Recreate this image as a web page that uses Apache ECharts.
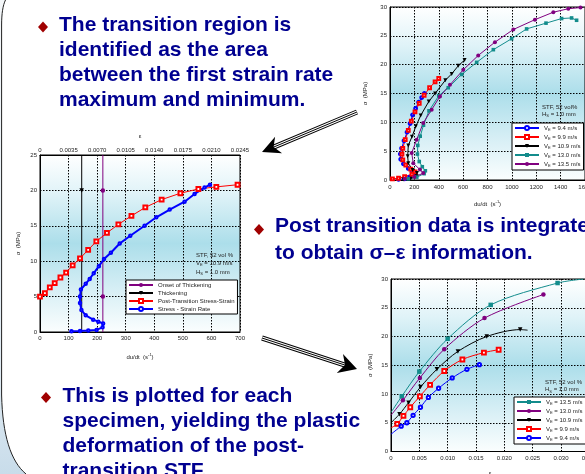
<!DOCTYPE html>
<html>
<head>
<meta charset="utf-8">
<script src="https://cdn.jsdelivr.net/npm/echarts@6/dist/echarts.min.js"></script>
<style>
  html, body { margin: 0; padding: 0; background: #fff; }
  #main { width: 585px; height: 474px; }
</style>
</head>
<body>
<div id="main"></div>
<script>
const FONT = 'Liberation Sans, Arial, sans-serif';

// left chart, one specimen (V_E = 10.9 m/s)
const onsetLine = [[220, 0], [220, 5], [220, 20], [220, 25]];
const thickLine = [[146, 0], [146, 20], [146, 25]];
const postLeft = [[0, 5.0], [0.0006, 5.5], [0.0012, 6.3], [0.0018, 6.9], [0.0025, 7.7], [0.0032, 8.4],
  [0.0040, 9.4], [0.0049, 10.4], [0.0059, 11.6], [0.0069, 12.8], [0.0082, 14.0], [0.0096, 15.2],
  [0.0112, 16.4], [0.0129, 17.6], [0.0149, 18.7], [0.0172, 19.6], [0.0194, 20.2], [0.0216, 20.5], [0.0242, 20.8]];
const rateLeft = [[110, 0.1], [140, 0.14], [169, 0.2], [198, 0.3], [219, 0.66], [221, 1.2], [204, 1.46],
  [186, 1.74], [160, 2.35], [145, 3.1], [140, 4.1], [140, 5.0], [143, 6.0], [160, 6.8], [174, 7.5],
  [188, 8.3], [206, 9.3], [224, 10.3], [248, 11.2], [279, 12.5], [316, 13.6], [366, 15.0], [407, 16.2],
  [454, 17.3], [506, 18.4], [541, 19.5], [576, 20.4], [595, 20.8]];

// top right: stress vs strain rate
const rate94 = [[70, 0.1], [120, 0.2], [160, 0.5], [195, 1.1], [180, 1.5], [150, 2.0], [110, 2.8], [88, 3.6],
  [85, 4.5], [95, 5.5], [115, 6.8], [140, 8.3], [165, 9.8], [185, 11.3], [210, 12.4], [235, 13.5], [260, 14.3], [282, 15.0]];
const rate99 = [[20, 0.2], [70, 0.3], [120, 0.6], [180, 1.0], [205, 1.4], [170, 1.9], [130, 2.6], [105, 3.5],
  [98, 4.5], [105, 5.5], [125, 7.0], [150, 8.6], [175, 10.2], [205, 11.8], [240, 13.3], [280, 14.7],
  [325, 16.0], [370, 17.0], [400, 17.6]];
const rate109 = [[110, 0.1], [169, 0.2], [219, 0.66], [221, 1.2], [186, 1.74], [150, 2.9], [145, 4.1],
  [150, 6.0], [180, 7.5], [212, 9.3], [252, 11.2], [318, 13.6], [370, 15.0], [454, 17.3], [506, 18.4],
  [560, 19.8], [612, 20.8]];
const rate130 = [[150, 0.2], [220, 0.5], [280, 1.1], [290, 1.6], [265, 2.3], [240, 3.2], [225, 4.5], [228, 6.0],
  [248, 7.6], [275, 9.5], [320, 12.0], [400, 14.6], [478, 16.0], [588, 18.3], [711, 20.4], [848, 22.6],
  [998, 24.5], [1121, 26.2], [1280, 27.2], [1408, 28.0], [1490, 28.1], [1531, 27.7]];
const rate135 = [[120, 0.2], [200, 0.5], [273, 1.2], [246, 1.8], [191, 2.9], [178, 4.7], [219, 7.0],
  [273, 9.9], [342, 12.2], [410, 14.5], [492, 16.5], [601, 19.1], [724, 21.6], [861, 23.9], [1012, 26.1],
  [1189, 27.8], [1340, 29.1], [1463, 29.7], [1563, 29.9]];

// bottom right: stress vs strain
const strain135 = [[0, 6.8], [0.0019, 9.6], [0.005, 13.9], [0.010, 19.6], [0.0176, 25.5], [0.0294, 29.3], [0.034, 30.0]];
const strain130 = [[0, 6.3], [0.0021, 8.9], [0.0051, 12.8], [0.0094, 17.8], [0.0165, 23.2], [0.0269, 27.3]];
const strain109 = [[0, 5.0], [0.0015, 6.5], [0.0031, 8.5], [0.0052, 11.2], [0.0081, 14.3], [0.0118, 17.4],
  [0.0169, 20.0], [0.0228, 21.2], [0.0241, 21.1]];
const strain99 = [[0, 4.1], [0.0011, 4.8], [0.0022, 6.2], [0.0034, 7.7], [0.0051, 9.6], [0.0069, 11.6],
  [0.0094, 14.0], [0.0126, 16.0], [0.0164, 17.2], [0.019, 17.7]];
const strain94 = [[0, 3.0], [0.0018, 4.4], [0.0028, 5.0], [0.0039, 6.3], [0.0052, 7.7], [0.0066, 9.4],
  [0.0084, 11.0], [0.0108, 12.8], [0.0134, 14.3], [0.0156, 15.1]];

const leftNames = ['Onset of Thickening', 'Thickening', 'Post-Transition Stress-Strain', 'Stress - Strain Rate'];
const speeds = ['9.4', '9.9', '10.9', '13.0', '13.5'];

const bullet1 = ['The transition region is', 'identified as the area', 'between the first strain rate', 'maximum and minimum.'];
const bullet2 = ['Post transition data is integrated', 'to obtain σ–ε information.'];
const bullet3 = ['This is plotted for each', 'specimen, yielding the plastic', 'deformation of the post-', 'transition STF.'];

const chart = echarts.init(document.getElementById('main'));

function vGradient(stops) {
  return { type: 'linear', x: 0, y: 0, x2: 0, y2: 1, global: false,
    colorStops: stops.map(s => ({ offset: s[0], color: s[1] })) };
}

const plotBg = vGradient([[0, '#ffffff'], [0.22, '#e0f3f8'], [0.5, '#acdeea'], [0.78, '#daf0f6'], [1, '#fbfefe']]);

const smallText = { fontSize: 6, fontFamily: FONT, color: '#222' };
const richSub = {
  s: { fontSize: 4, fontFamily: FONT, color: '#222', verticalAlign: 'bottom', lineHeight: 8 },
  p: { fontSize: 4, fontFamily: FONT, color: '#222', verticalAlign: 'top', lineHeight: 8 },
  n: { fontSize: 6, fontFamily: FONT, color: '#222', lineHeight: 8 }
};

function valAxis(o) {
  return Object.assign({
    type: 'value',
    axisLine: { show: true, onZero: false, lineStyle: { color: '#000', width: 1 } },
    axisTick: { show: false },
    axisLabel: Object.assign({ margin: 3, formatter: v => String(v) }, smallText),
    splitLine: { show: true, lineStyle: { color: '#000', width: 1, type: [1.5, 1.5] } },
    nameLocation: 'middle',
    nameTextStyle: Object.assign({ rich: richSub }, smallText)
  }, o);
}

// hide the marker on the first and last point of a line
function endsHidden(data, size) {
  return (v, p) => (p.dataIndex === 0 || p.dataIndex === data.length - 1) ? 0 : size;
}
const firstHidden = size => (v, p) => p.dataIndex === 0 ? 0 : size;

function line(name, data, xi, yi, color, symbol, size, extra) {
  return Object.assign({
    name: name,
    type: 'line',
    data: data,
    xAxisIndex: xi,
    yAxisIndex: yi,
    symbol: symbol,
    symbolSize: size,
    color: color,
    lineStyle: { color: color, width: 1 },
    itemStyle: { color: color, borderColor: color, borderWidth: symbol.indexOf('empty') === 0 ? 1 : 0 },
    animation: false,
    z: 3
  }, extra || {});
}

const TEAL = '#138c8c';
const PURPLE = '#80007f';

const series = [
  line(leftNames[0], onsetLine, 0, 0, PURPLE, 'circle', endsHidden(onsetLine, 4.5), { z: 2 }),
  line(leftNames[1], thickLine, 0, 0, '#000', 'triangle', endsHidden(thickLine, 4.5), { symbolRotate: 180, z: 2 }),
  line(leftNames[2], postLeft, 1, 0, '#ff0000', 'emptyRect', 3.8),
  line(leftNames[3], rateLeft, 0, 0, '#0000ff', 'emptyCircle', 2.5, { lineStyle: { color: '#0000ff', width: 2 } }),

  line('rate|9.4', rate94, 2, 1, '#0000ff', 'emptyCircle', 2.8),
  line('rate|9.9', rate99, 2, 1, '#ff0000', 'emptyRect', 2.8),
  line('rate|10.9', rate109, 2, 1, '#000', 'triangle', 4, { symbolRotate: 180 }),
  line('rate|13.0', rate130, 2, 1, TEAL, 'rect', 3.6),
  line('rate|13.5', rate135, 2, 1, PURPLE, 'circle', 4),

  line('strain|13.5', strain135, 3, 2, TEAL, 'rect', endsHidden(strain135, 4.5), { smooth: 0.3 }),
  line('strain|13.0', strain130, 3, 2, PURPLE, 'circle', firstHidden(4.5), { smooth: 0.3 }),
  line('strain|10.9', strain109, 3, 2, '#000', 'triangle', endsHidden(strain109, 4.5), { symbolRotate: 180, smooth: 0.3 }),
  line('strain|9.9', strain99, 3, 2, '#ff0000', 'emptyRect', firstHidden(3.8), { smooth: 0.3 }),
  line('strain|9.4', strain94, 3, 2, '#0000ff', 'emptyCircle', firstHidden(3.3), { smooth: 0.3 })
];

const legendBase = {
  orient: 'vertical',
  itemWidth: 24,
  itemHeight: 5,
  itemGap: 2,
  padding: [2, 3, 2, 2],
  backgroundColor: '#fff',
  borderColor: '#000',
  borderWidth: 1,
  borderRadius: 0,
  selectedMode: false,
  textStyle: Object.assign({ rich: richSub }, smallText)
};
const speedLabel = name => '{n|V}{s|E}{n| = ' + name.split('|')[1] + ' m/s}';

function textLines(lines, x, firstBaseline, step) {
  return lines.map((t, i) => ({
    type: 'text',
    x: x,
    y: firstBaseline + i * step - 7.3,
    z: 10,
    style: { text: t, font: 'bold 21px ' + FONT, fill: '#000090', verticalAlign: 'middle' }
  }));
}

function diamond(cx, cy) {
  return {
    type: 'polygon', z: 10,
    shape: { points: [[cx, cy - 5.6], [cx + 5, cy], [cx, cy + 5.6], [cx - 5, cy]] },
    style: { fill: '#a00000' }
  };
}

function arrow(tail, tip, headLen, headHalf) {
  const dx = tip[0] - tail[0], dy = tip[1] - tail[1];
  const len = Math.sqrt(dx * dx + dy * dy);
  const ux = dx / len, uy = dy / len, px = -uy, py = ux;
  const bx = tip[0] - headLen * ux, by = tip[1] - headLen * uy;
  const nx = tip[0] - headLen * 0.7 * ux, ny = tip[1] - headLen * 0.7 * uy;
  const shaft = [tail, [nx, ny]];
  return [
    { type: 'polyline', z: 11, shape: { points: shaft }, style: { stroke: '#000', lineWidth: 5, fill: null } },
    { type: 'polyline', z: 11, shape: { points: shaft }, style: { stroke: '#fff', lineWidth: 3, fill: null } },
    { type: 'polyline', z: 11, shape: { points: shaft }, style: { stroke: '#000', lineWidth: 1, fill: null } },
    { type: 'polygon', z: 12, shape: { points: [tip, [bx + headHalf * px, by + headHalf * py], [nx, ny], [bx - headHalf * px, by - headHalf * py]] },
      style: { fill: '#000' } }
  ];
}

function note(x, y, text) {
  return { type: 'text', x: x, y: y, z: 10,
    style: { text: text, rich: richSub, font: '6px ' + FONT, fill: '#222', verticalAlign: 'middle' } };
}

// quadratic curve sampled into points (slide frame only)
function quad(p0, c, p1, n) {
  const pts = [];
  for (let i = 0; i <= n; i++) {
    const t = i / n, a = (1 - t) * (1 - t), b = 2 * t * (1 - t), d = t * t;
    pts.push([a * p0[0] + b * c[0] + d * p1[0], a * p0[1] + b * c[1] + d * p1[1]]);
  }
  return pts;
}
const frameEdge = quad([5.5, 0], [1.6, 8], [1.6, 25], 8).concat(quad([1.6, 395], [3, 455], [26, 474], 16));

const graphic = [
  { type: 'polygon', z: 0, shape: { points: [[0, 0]].concat(frameEdge, [[0, 474]]) },
    style: { fill: vGradient([[0, '#f4f7f9'], [0.8, '#dfeaf2'], [1, '#c8dcea']]) } },
  { type: 'polyline', z: 1, shape: { points: frameEdge }, style: { stroke: '#222', lineWidth: 1, fill: null } },
  diamond(43, 27), diamond(259, 229.5), diamond(46, 397.5)
].concat(
  textLines(bullet1, 59, 32.3, 25),
  textLines(bullet2, 275, 234, 26.5),
  textLines(bullet3, 62.5, 403.5, 25),
  arrow([357, 112], [262, 152], 18, 9),
  arrow([262, 338], [357, 369], 18, 10),
  [
    note(196, 255, '{n|STF, 52 vol %}'),
    note(196, 263, '{n|V}{s|E}{n| = 10.9 m/s}'),
    note(196, 272, '{n|H}{s|S}{n| = 1.0 mm}'),
    note(542, 107.5, '{n|STF, 52 vol%}'),
    note(542, 114, '{n|H}{s|S}{n| = 1.0 mm}'),
    note(545, 382.5, '{n|STF, 52 vol %}'),
    note(545, 389.5, '{n|H}{s|S}{n| = 1.0 mm}')
  ]
);

const gridBase = { show: true, backgroundColor: plotBg, borderColor: '#000', borderWidth: 1, containLabel: false, outerBoundsMode: 'none' };

chart.setOption({
  animation: false,
  backgroundColor: '#fff',
  grid: [
    Object.assign({ left: 40, top: 155, width: 200, height: 177 }, gridBase),
    Object.assign({ left: 390, top: 7, width: 195, height: 173 }, gridBase),
    Object.assign({ left: 391, top: 279, width: 198.3, height: 172.5 }, gridBase)
  ],
  xAxis: [
    valAxis({ gridIndex: 0, min: 0, max: 700, interval: 100, name: '{n|du/dt  (s}{p|-1}{n|)}', nameGap: 21 }),
    valAxis({ gridIndex: 0, position: 'top', min: 0, max: 0.0245, interval: 0.0035, name: 'ε', nameGap: 16,
      splitLine: { show: false },
      axisLabel: Object.assign({ margin: 2, formatter: v => v === 0 ? '0' : v.toFixed(4) }, smallText) }),
    valAxis({ gridIndex: 1, min: 0, max: 1600, interval: 200, name: '{n|du/dt  (s}{p|-1}{n|)}', nameGap: 20,
      axisLabel: Object.assign({ margin: 4, formatter: v => String(v) }, smallText) }),
    valAxis({ gridIndex: 2, min: 0, max: 0.035, interval: 0.005, name: 'ε', nameGap: 19,
      axisLabel: Object.assign({ margin: 4, formatter: v => v === 0 ? '0' : v.toFixed(3) }, smallText) })
  ],
  yAxis: [
    valAxis({ gridIndex: 0, min: 0, max: 25, interval: 5, name: 'σ  (MPa)', nameGap: 19 }),
    valAxis({ gridIndex: 1, min: 0, max: 30, interval: 5, name: 'σ  (MPa)', nameGap: 22 }),
    valAxis({ gridIndex: 2, min: 0, max: 30, interval: 5, name: 'σ  (MPa)', nameGap: 18 })
  ],
  legend: [
    Object.assign({}, legendBase, { left: 126, top: 280, data: leftNames }),
    Object.assign({}, legendBase, { left: 512, top: 123, data: speeds.map(s => 'rate|' + s), formatter: speedLabel }),
    Object.assign({}, legendBase, { left: 514, top: 397, data: speeds.slice().reverse().map(s => 'strain|' + s), formatter: speedLabel })
  ],
  series: series,
  graphic: graphic
});
</script>
</body>
</html>
